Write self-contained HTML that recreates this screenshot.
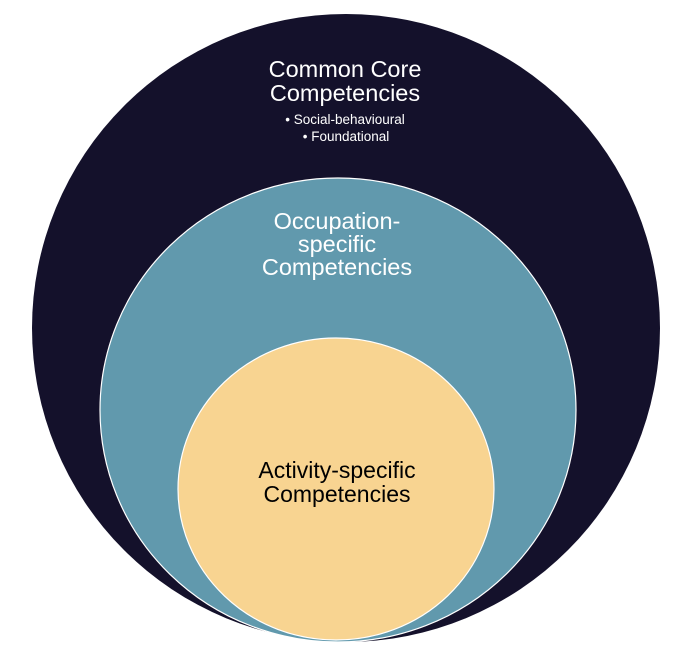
<!DOCTYPE html>
<html><head><style>body{margin:0;background:#fff}svg{display:block}</style></head>
<body>
<svg width="691" height="659" xmlns="http://www.w3.org/2000/svg" font-family="'Liberation Sans', sans-serif">
<rect width="691" height="659" fill="#fff"/>
<circle cx="346" cy="328" r="314" fill="#14112b"/>
<ellipse cx="338" cy="410" rx="238" ry="232" fill="#6199ad" stroke="#fff" stroke-width="1.2"/>
<ellipse cx="336" cy="489" rx="158" ry="151" fill="#f8d491" stroke="#fff" stroke-width="1.2"/>
<g fill="#fff" text-anchor="middle">
<text x="345" y="77" font-size="23.5">Common Core</text>
<text x="345" y="101" font-size="23.5">Competencies</text>
<text x="345" y="124" font-size="13.5">• Social-behavioural</text>
<text x="346" y="141" font-size="13.5">• Foundational</text>
<text x="337" y="229" font-size="23.5">Occupation-</text>
<text x="337" y="252" font-size="23.5">specific</text>
<text x="337" y="275" font-size="23.5">Competencies</text>
</g>
<g fill="#000" text-anchor="middle">
<text x="337" y="478" font-size="23">Activity-specific</text>
<text x="337" y="502" font-size="23">Competencies</text>
</g>
</svg>
</body></html>
